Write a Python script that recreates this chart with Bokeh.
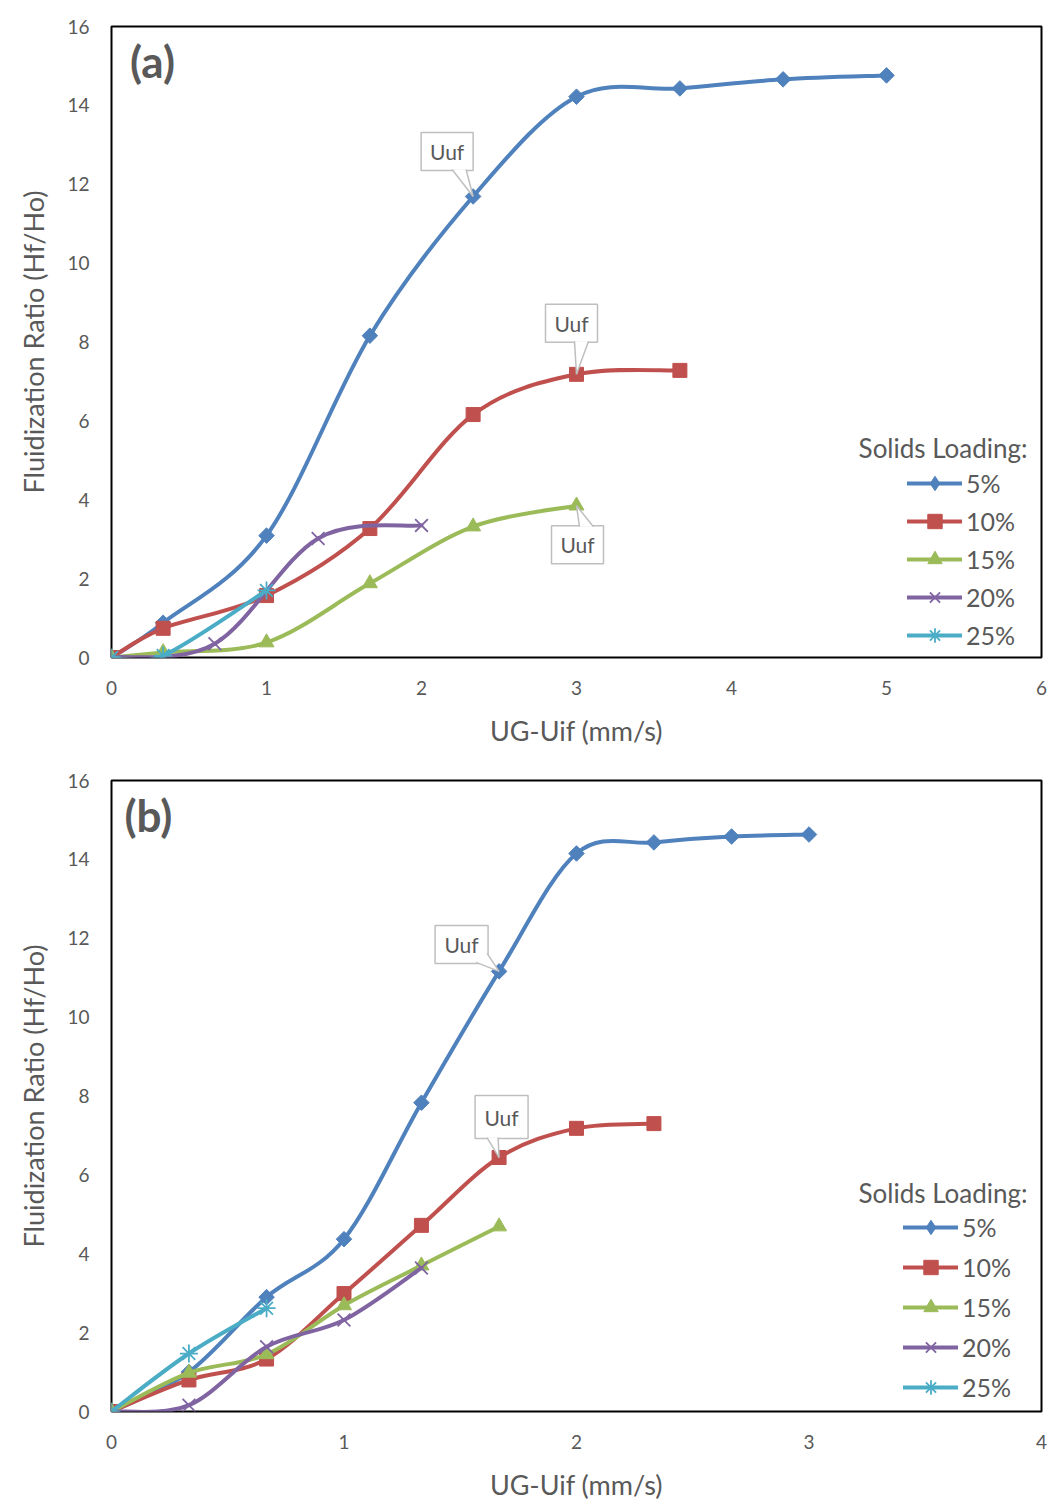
import numpy as np
from bokeh.plotting import figure
from bokeh.models import FixedTicker, Legend, LegendItem, Label, Range1d
from bokeh.layouts import column
from bokeh.embed import file_html
from bokeh.resources import INLINE
from bokeh.core.properties import value

# ---------------- data ----------------
series_labels = ["5%", "10%", "15%", "20%", "25%"]
colors = ["#4F81BD", "#C0504D", "#9BBB59", "#8064A2", "#4BACC6"]

# panel (a)
a_x_5 = [0, 0.333, 1.0, 1.667, 2.333, 3.0, 3.667, 4.333, 5.0]
a_y_5 = [0, 0.88, 3.09, 8.16, 11.69, 14.22, 14.43, 14.66, 14.76]
a_x_10 = [0, 0.333, 1.0, 1.667, 2.333, 3.0, 3.667]
a_y_10 = [0, 0.74, 1.57, 3.27, 6.16, 7.18, 7.28]
a_x_15 = [0, 0.333, 1.0, 1.667, 2.333, 3.0]
a_y_15 = [0, 0.13, 0.38, 1.88, 3.32, 3.85]
a_x_20 = [0, 0.667, 1.333, 2.0]
a_y_20 = [0, 0.35, 3.02, 3.35]
a_x_25 = [0, 0.333, 1.0]
a_y_25 = [0, 0.05, 1.70]

# panel (b)
b_x_5 = [0, 0.333, 0.667, 1.0, 1.333, 1.667, 2.0, 2.333, 2.667, 3.0]
b_y_5 = [0, 1.0, 2.90, 4.37, 7.83, 11.16, 14.15, 14.43, 14.58, 14.63]
b_x_10 = [0, 0.333, 0.667, 1.0, 1.333, 1.667, 2.0, 2.333]
b_y_10 = [0, 0.80, 1.33, 2.99, 4.72, 6.44, 7.18, 7.30]
b_x_15 = [0, 0.333, 0.667, 1.0, 1.333, 1.667]
b_y_15 = [0, 0.98, 1.45, 2.69, 3.70, 4.69]
b_x_20 = [0, 0.333, 0.667, 1.0, 1.333]
b_y_20 = [0, 0.16, 1.64, 2.32, 3.64]
b_x_25 = [0, 0.333, 0.667]
b_y_25 = [0, 1.47, 2.62]

y_ticks = [0, 2, 4, 6, 8, 10, 12, 14, 16]
a_x_ticks = [0, 1, 2, 3, 4, 5, 6]
b_x_ticks = [0, 1, 2, 3, 4]

callout_text = "Uuf"
FONT = "Lato"
GRAY = "#595959"

FRAME_W = 930
FRAME_H = 631


def bezier_controls(xs, ys):
    """Smooth (Catmull-Rom style) Bezier control points, as Excel's smoothed line."""
    n = len(xs)
    x = np.asarray(xs, float)
    y = np.asarray(ys, float)
    x0, y0, x1, y1, cx0, cy0, cx1, cy1 = [], [], [], [], [], [], [], []
    for i in range(n - 1):
        ip = max(i - 1, 0)
        inn = min(i + 2, n - 1)
        x0.append(x[i]); y0.append(y[i]); x1.append(x[i + 1]); y1.append(y[i + 1])
        cx0.append(x[i] + (x[i + 1] - x[ip]) / 6.0)
        cy0.append(y[i] + (y[i + 1] - y[ip]) / 6.0)
        cx1.append(x[i + 1] - (x[inn] - x[i]) / 6.0)
        cy1.append(y[i + 1] - (y[inn] - y[i]) / 6.0)
    return dict(x0=x0, y0=y0, x1=x1, y1=y1, cx0=cx0, cy0=cy0, cx1=cx1, cy1=cy1)


def make_panel(xs_list, ys_list, xmax, xticks, tag, tag_xy, callouts,
               legend_loc, legend_spacing, title_xy, min_top, min_bottom):
    height = min_top + FRAME_H + min_bottom
    p = figure(width=1060, height=height, frame_width=FRAME_W, frame_height=FRAME_H,
               x_range=Range1d(0, xmax), y_range=Range1d(0, 16),
               output_backend="svg", toolbar_location=None,
               min_border_left=111, min_border_right=19,
               min_border_top=min_top, min_border_bottom=min_bottom,
               background_fill_color="white", border_fill_color="white")
    p.outline_line_color = "black"
    p.outline_line_width = 2
    p.xgrid.grid_line_color = None
    p.ygrid.grid_line_color = None

    for ax in (p.xaxis[0], p.yaxis[0]):
        ax.axis_line_color = None
        ax.major_tick_line_color = None
        ax.minor_tick_line_color = None
        ax.major_tick_out = 0
        ax.major_tick_in = 0
        ax.major_label_text_font = FONT
        ax.major_label_text_font_size = "19px"
        ax.major_label_text_color = GRAY
        ax.axis_label_text_font = FONT
        ax.axis_label_text_font_size = "27px"
        ax.axis_label_text_font_style = "normal"
        ax.axis_label_text_color = GRAY
    p.xaxis.ticker = FixedTicker(ticks=xticks)
    p.yaxis.ticker = FixedTicker(ticks=y_ticks)
    p.xaxis.major_label_standoff = 23
    p.yaxis.major_label_standoff = 22
    p.xaxis.axis_label_standoff = 16
    p.yaxis.axis_label_standoff = 14
    p.xaxis.axis_label = "UG-Uif (mm/s)"
    p.yaxis.axis_label = "Fluidization Ratio (Hf/Ho)"

    markers = [("square", 11, np.pi / 4), ("square", 14, 0), ("triangle", 15, 0),
               ("x", 18, 0), ("asterisk", 18, 0)]
    items = []
    for k, (xs, ys, col, lab, (mk, sz, ang)) in enumerate(
            zip(xs_list, ys_list, colors, series_labels, markers)):
        p.bezier(source=bezier_controls(xs, ys), x0="x0", y0="y0", x1="x1", y1="y1",
                 cx0="cx0", cy0="cy0", cx1="cx1", cy1="cy1",
                 line_color=col, line_width=4, line_cap="round")
        dummy = p.line(x=[np.nan], y=[np.nan], line_color=col, line_width=4, line_cap="round")
        if mk in ("x", "asterisk"):
            sr = p.scatter(x=xs, y=ys, marker=mk, size=sz, line_color=col, line_width=1.8)
        else:
            sr = p.scatter(x=xs, y=ys, marker=mk, size=sz, angle=ang, fill_color=col,
                           line_color=col, line_width=1)
        leg_r = [dummy, sr]
        if ang != 0:
            # legend keys ignore marker angle: use a diamond key instead
            dm = p.scatter(x=[np.nan], y=[np.nan], marker="diamond", size=sz,
                           fill_color=col, line_color=col, line_width=1)
            leg_r = [dummy, dm]
        items.append(LegendItem(label=lab, renderers=leg_r))

    # callouts
    sx = FRAME_W / xmax
    sy = FRAME_H / 16.0
    for (si, pi, bx, by, bw, bh, b1, b2) in callouts:
        px = xs_list[si][pi]
        py = ys_list[si][pi]
        cx = px + bx / sx
        cy = py + by / sy
        p.rect(x=[cx], y=[cy], width=bw, height=bh, width_units="screen",
               height_units="screen", fill_color="white", line_color="#BFBFBF",
               line_width=1.5)
        wx = [px + b1[0] / sx, px, px + b2[0] / sx]
        wy = [py + b1[1] / sy, py, py + b2[1] / sy]
        p.patch(x=wx, y=wy, fill_color="white", line_color=None)
        p.multi_line(xs=[[wx[0], wx[1]], [wx[1], wx[2]]], ys=[[wy[0], wy[1]], [wy[1], wy[2]]],
                     line_color="#BFBFBF", line_width=1.5)
        p.text(x=[cx], y=[cy], text=[callout_text], text_align="center",
               text_baseline="middle", text_font=value(FONT), text_font_size="21px",
               text_color=GRAY)

    p.add_layout(Label(x=tag_xy[0], y=tag_xy[1], text=tag, text_font=FONT,
                       text_font_size="44px", text_font_style="bold", text_color=GRAY,
                       text_baseline="top", text_align="left"))
    p.add_layout(Label(x=title_xy[0], y=title_xy[1], text="Solids Loading:", text_font=FONT,
                       text_font_size="26px", text_color=GRAY, text_baseline="middle",
                       text_align="left"))

    leg = Legend(items=items, location=legend_loc, orientation="vertical",
                 glyph_width=55, glyph_height=36, label_height=36, spacing=legend_spacing,
                 padding=0, margin=0, border_line_color=None, background_fill_alpha=0,
                 label_standoff=4, label_text_font=FONT, label_text_font_size="25px",
                 label_text_color=GRAY)
    p.add_layout(leg)
    return p


# callouts: (series, point, box dx, box dy(up), box w, box h, wedge base1, wedge base2) in px
a_callouts = [
    (0, 4, -26, 45, 52, 38, (-21, 27), (-7, 27)),
    (1, 5, -5, 51, 52, 38, (-2, 33), (12, 33)),
    (2, 5, 1, -39, 52, 38, (3, -21), (17, -21)),
]
b_callouts = [
    (0, 5, -37.5, 27, 53, 38, (-23, 9), (-12, 18)),
    (1, 5, 2.5, 40.5, 53, 43, (-12, 20), (-1, 20)),
]

pa = make_panel([a_x_5, a_x_10, a_x_15, a_x_20, a_x_25],
                [a_y_5, a_y_10, a_y_15, a_y_20, a_y_25],
                6, a_x_ticks, "(a)", (0.12, 15.78), a_callouts,
                (796, 4), 2, (4.82, 5.30), 26, 103)
pb = make_panel([b_x_5, b_x_10, b_x_15, b_x_20, b_x_25],
                [b_y_5, b_y_10, b_y_15, b_y_20, b_y_25],
                4, b_x_ticks, "(b)", (0.056, 15.78), b_callouts,
                (792, 6), 4, (3.213, 5.53), 20, 100)

layout = column(pa, pb, spacing=0)
open("out.html", "w").write(file_html(layout, INLINE))
